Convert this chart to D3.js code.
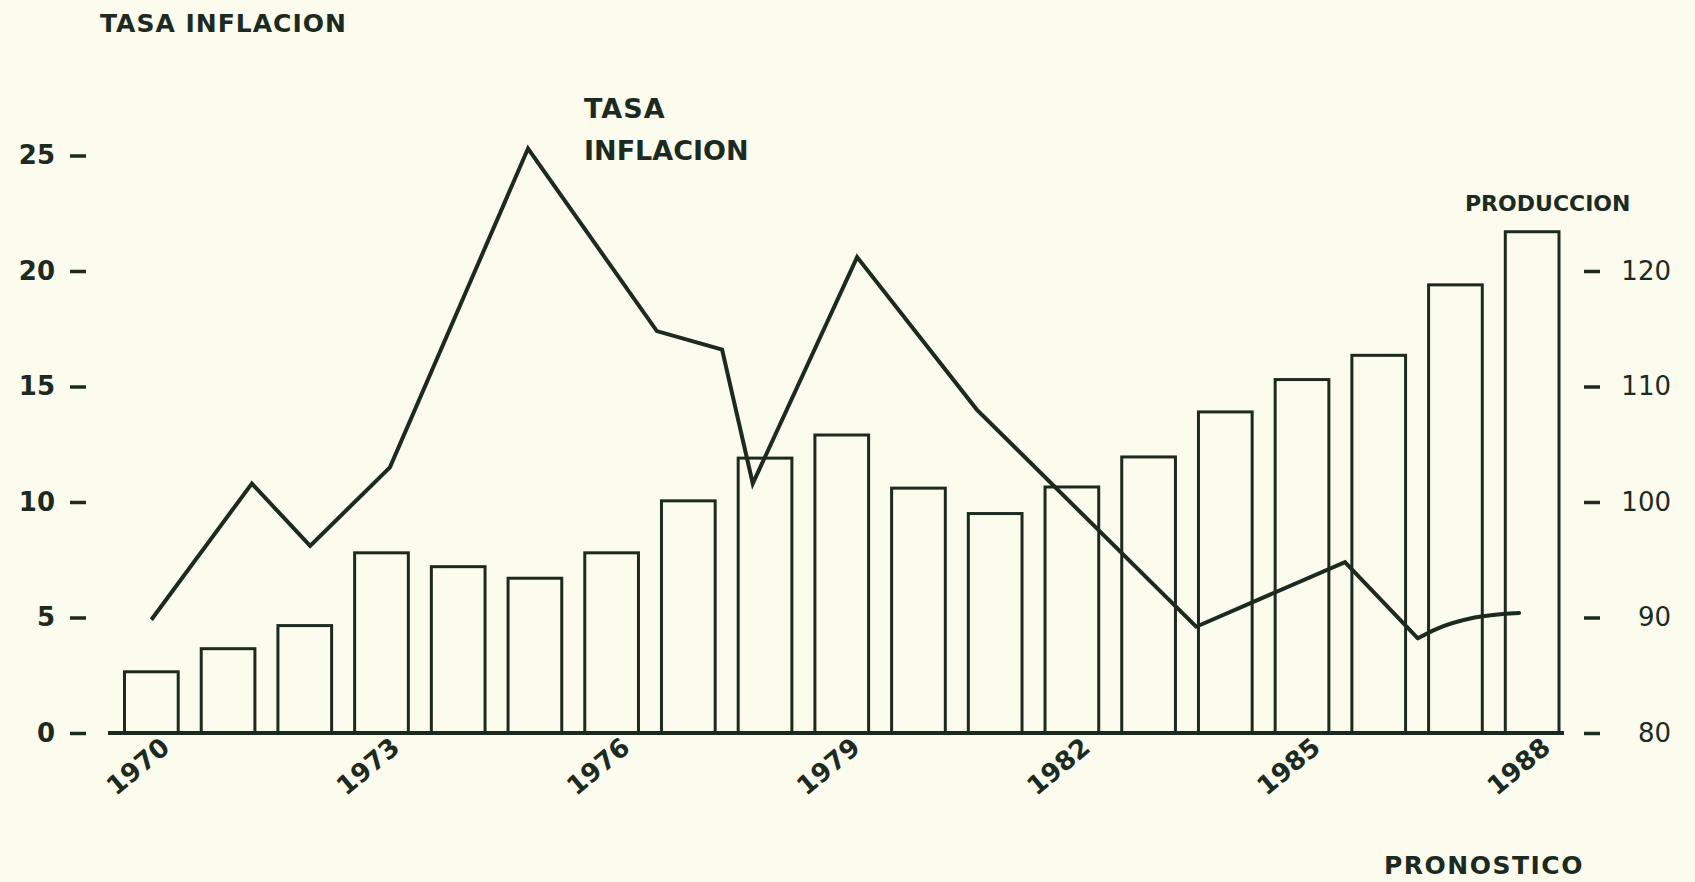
<!DOCTYPE html>
<html>
<head>
<meta charset="utf-8">
<script src="https://cdn.jsdelivr.net/npm/d3@7"></script>
<style>
  html, body { margin: 0; padding: 0; background: #fbfbee; }
  svg { display: block; }
  text { font-family: "DejaVu Sans", sans-serif; fill: #1d2a1f; }
</style>
</head>
<body>
<svg id="chart" width="1695" height="882"></svg>
<script>
// ---- data ----
const years = [1970,1971,1972,1973,1974,1975,1976,1977,1978,1979,1980,1981,1982,1983,1984,1985,1986,1987,1988];
const produccion = [85.3,87.3,89.3,95.6,94.4,93.4,95.6,100.1,103.8,105.8,101.2,99.0,101.3,103.9,107.8,110.6,112.7,118.8,123.4];
// inflation line vertices (position in years, rate in %)
const inflacionPos = [1970.0,1971.31,1972.07,1973.11,1974.91,1976.59,1977.44,1977.84,1979.2,1980.76,1983.62,1985.56,1986.51,1986.75,1987.25,1987.83];
const inflacionVal = [4.9,10.8,8.1,11.5,25.3,17.4,16.6,10.8,20.6,14.0,4.6,7.4,4.1,4.5,5.0,5.2];
const leftTicks = [0,5,10,15,20,25];
const rightTicks = [80,90,100,110,120];
const xTickYears = [1970,1973,1976,1979,1982,1985,1988];
const titleLeft = "TASA INFLACION";
const lineLabel = ["TASA","INFLACION"];
const barLabel = "PRODUCCION";
const footLabel = "PRONOSTICO";

// ---- setup ----
const ink = "#1d2a1f";
const svg = d3.select("#chart");
const baseY = 733;

const x = d3.scaleBand().domain(years).range([113, 1570.5]).paddingInner(0.3).paddingOuter(0.15);
const bw = x.bandwidth();
const xLin = d3.scaleLinear().domain([1970,1988]).range([x(1970)+bw/2, x(1988)+bw/2]);
const yL = d3.scaleLinear().domain([0,25]).range([baseY, 155.5]);
const yR = d3.scaleLinear().domain([80,130]).range([baseY, 155.5]);

// bars
svg.append("g").selectAll("rect").data(years).join("rect")
  .attr("x", d => x(d))
  .attr("y", (d,i) => yR(produccion[i]))
  .attr("width", bw)
  .attr("height", (d,i) => baseY - yR(produccion[i]))
  .attr("fill", "none")
  .attr("stroke", ink)
  .attr("stroke-width", 3);

// baseline
svg.append("line")
  .attr("x1", 108).attr("x2", 1564)
  .attr("y1", baseY).attr("y2", baseY)
  .attr("stroke", ink).attr("stroke-width", 4);

// inflation line (straight segments, smooth forecast tail)
const pts = inflacionPos.map((p,i) => [p, inflacionVal[i]]);
const line = d3.line().x(d => xLin(d[0])).y(d => yL(d[1])).curve(d3.curveLinear);
const tail = d3.line().x(d => xLin(d[0])).y(d => yL(d[1])).curve(d3.curveMonotoneX);
svg.append("path")
  .attr("d", line(pts.slice(0, 13)))
  .attr("fill", "none").attr("stroke", ink)
  .attr("stroke-width", 4).attr("stroke-linejoin", "miter");
svg.append("path")
  .attr("d", tail(pts.slice(12)))
  .attr("fill", "none").attr("stroke", ink)
  .attr("stroke-width", 4).attr("stroke-linecap", "round");

// left axis
const gL = svg.append("g").attr("transform", "translate(86,0)")
  .call(d3.axisLeft(yL).tickValues(leftTicks).tickSize(16).tickPadding(15).tickFormat(d3.format("d")));
gL.select(".domain").remove();
gL.selectAll(".tick line").attr("stroke", ink).attr("stroke-width", 3.5);
gL.selectAll(".tick text").attr("font-size", 26).attr("fill", ink)
  .attr("font-family", "DejaVu Sans").attr("font-weight", "bold");

// right axis
const gR = svg.append("g").attr("transform", "translate(1584,0)")
  .call(d3.axisRight(yR).tickValues(rightTicks).tickSize(16).tickFormat(d3.format("d")));
gR.select(".domain").remove();
gR.selectAll(".tick line").attr("stroke", ink).attr("stroke-width", 3.5);
gR.selectAll(".tick text").attr("font-size", 26).attr("fill", ink)
  .attr("font-family", "DejaVu Sans").attr("text-anchor", "end").attr("x", 87);

// bottom axis
const gB = svg.append("g").attr("transform", `translate(0,${baseY})`)
  .call(d3.axisBottom(x).tickValues(xTickYears).tickSize(0).tickFormat(d3.format("d")));
gB.select(".domain").remove();
gB.selectAll(".tick text")
  .attr("x", 0).attr("y", 0).attr("dy", 0)
  .attr("text-anchor", "end")
  .attr("transform", "translate(20,17) rotate(-40)")
  .attr("font-size", 26).attr("fill", ink)
  .attr("font-family", "DejaVu Sans").attr("font-weight", "bold");

// labels
svg.append("text").attr("x", 100).attr("y", 32)
  .attr("font-size", 25).attr("font-weight", "bold").attr("letter-spacing", 1)
  .text(titleLeft);
svg.append("text").attr("x", 584).attr("y", 118)
  .attr("font-size", 27).attr("font-weight", "bold").attr("letter-spacing", 1)
  .text(lineLabel[0]);
svg.append("text").attr("x", 584).attr("y", 160)
  .attr("font-size", 27).attr("font-weight", "bold").attr("letter-spacing", 0)
  .text(lineLabel[1]);
svg.append("text").attr("x", 1465).attr("y", 211)
  .attr("font-size", 22).attr("font-weight", "bold")
  .text(barLabel);
svg.append("text").attr("x", 1384).attr("y", 874)
  .attr("font-size", 25).attr("font-weight", "bold").attr("letter-spacing", 1.5)
  .text(footLabel);
</script>
</body>
</html>
